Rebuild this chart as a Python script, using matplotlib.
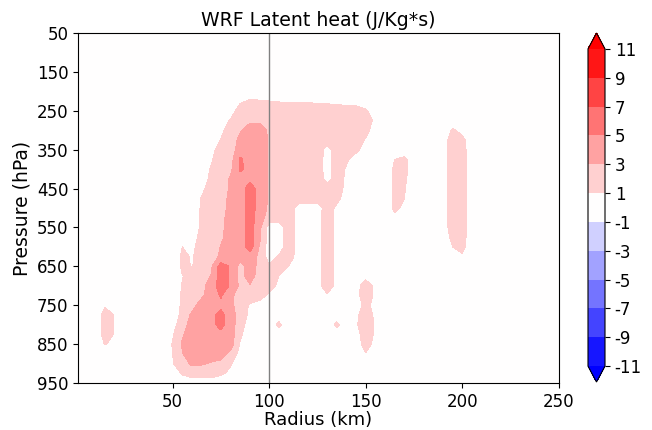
import numpy as np
import matplotlib
matplotlib.use("Agg")
import matplotlib.pyplot as plt

plt.rcParams['axes.unicode_minus'] = False

# Radius (km) and pressure (hPa) coordinates of the field
radius = [1, 5, 10, 15, 20, 25, 30, 35, 40, 45,
          50, 55, 60, 65, 70, 75, 80, 85, 90, 95,
          100, 105, 110, 115, 120, 125, 130, 135, 140, 145,
          150, 155, 160, 165, 170, 175, 180, 185, 190, 195,
          200, 205, 250]
pressure = [50, 200, 225, 250, 275, 300, 325, 350, 375, 400, 425, 450, 475,
            500, 525, 550, 575, 600, 625, 650, 675, 700, 725, 750, 775,
            800, 825, 850, 875, 900, 925, 950]

Z10 = [0, 0, 0, 0, 0, 0, 0, 0, 0, 0]
Z3 = [0, 0, 0]

# Latent heat (J/Kg*s), one row per pressure level, columns follow radius
heat = [
    Z10 + Z10 + Z10 + Z10 + Z3,  # 50
    Z10 + Z10 + Z10 + Z10 + Z3,  # 200
    Z10 + [0, 0, 0, 0, 0, 0, 0, 0.7, 1.2, 1.1] + [1.0, 0.9, 0.8, 0.8, 0.8, 0.7, 0.6, 0.4, 0.2, 0] + Z10 + Z3,  # 225
    Z10 + [0, 0, 0, 0, 0, 0, 0, 2, 2, 2] + [2, 2, 2, 2, 2, 2, 2, 2, 2, 2] + [1.2, 0, 0, 0, 0, 0, 0, 0, 0, 0] + Z3,  # 250
    Z10 + [0, 0, 0, 0, 0, 0, 1.2, 2, 2.6, 2.6] + [2, 2, 2, 2, 2, 2, 2, 2, 2, 2] + [2, 0.5, 0, 0, 0, 0, 0, 0, 0, 0] + Z3,  # 275
    Z10 + [0, 0, 0, 0, 0, 0.5, 2, 2.8, 4, 4] + [2.6, 2, 2, 2, 2, 2, 2, 2, 2, 2] + [1.6, 0, 0, 0, 0, 0, 0, 0, 0, 1.2] + [0.5, 0, 0],  # 300
    Z10 + [0, 0, 0, 0, 0, 1.1, 2, 3.5, 4, 4] + [2.8, 2, 2, 2, 2, 2, 2, 2, 2, 2] + [0.8, 0, 0, 0, 0, 0, 0, 0, 0, 2] + [1.4, 0, 0],  # 325
    Z10 + [0, 0, 0, 0, 0.3, 2, 2, 4, 4, 4] + [2.8, 2, 2, 2, 2, 2, 0.3, 2, 2, 1.5] + [0, 0, 0, 0, 0, 0, 0, 0, 0, 2] + [1.6, 0, 0],  # 350
    Z10 + [0, 0, 0, 0, 0.8, 2, 2.2, 5.3, 4.2, 4] + [2.8, 2, 2, 2, 2, 2, 0.2, 2, 1.3, 0] + [0, 0, 0, 1.0, 1.4, 0, 0, 0, 0, 2] + [1.7, 0, 0],  # 375
    Z10 + [0, 0, 0, 0, 1.2, 2, 2.6, 5.3, 4.3, 4] + [2.8, 2, 2, 2, 2, 2, 0.2, 2, 0.8, 0] + [0, 0, 0, 1.3, 1.5, 0, 0, 0, 0, 2] + [1.7, 0, 0],  # 400
    Z10 + [0, 0, 0, 0, 1.5, 2, 3.2, 4.2, 4.5, 4] + [2.8, 2, 2, 2, 2, 2, 0.3, 2, 0.6, 0] + [0, 0, 0, 1.4, 1.3, 0, 0, 0, 0, 2] + [1.7, 0, 0],  # 425
    Z10 + [0, 0, 0, 0.5, 2, 2, 3.3, 4, 6, 4.2] + [2.8, 2, 2, 2, 2, 2, 2, 2, 0.4, 0] + [0, 0, 0, 1.3, 1.1, 0, 0, 0, 0, 2] + [1.7, 0, 0],  # 450
    Z10 + [0, 0, 0, 1.1, 2, 2, 3.6, 4, 6, 4.2] + [2.7, 2, 2, 2, 2, 2, 2, 1.6, 0, 0] + [0, 0, 0, 1.3, 1.0, 0, 0, 0, 0, 2] + [1.7, 0, 0],  # 475
    Z10 + [0, 0, 0, 1.2, 2, 2, 3.8, 4, 6, 4.2] + [2.6, 2, 2, 0.3, 0, 0, 2, 0.6, 0, 0] + [0, 0, 0, 1.4, 0.6, 0, 0, 0, 0, 2] + [1.7, 0, 0],  # 500
    Z10 + [0, 0, 0, 1.3, 2, 2.3, 4, 4, 6, 3.8] + [2.2, 2, 2, 0.3, 0, 0.4, 2, 0.4, 0, 0] + [0, 0, 0, 0.5, 0, 0, 0, 0, 0, 2] + [1.7, 0, 0],  # 525
    Z10 + [0, 0, 0, 1.3, 2, 2.5, 4, 4, 6, 3.5] + [0, 0, 2, 0.3, 0, 0.4, 2, 0.4, 0, 0] + [0, 0, 0, 0, 0, 0, 0, 0, 0, 2] + [1.7, 0, 0],  # 550
    Z10 + [0, 0, 0.2, 1.6, 2, 2.6, 4, 4, 6, 3.5] + [0, 0, 2, 0.3, 0, 0.4, 2, 0.4, 0, 0] + [0, 0, 0, 0, 0, 0, 0, 0, 0, 1.5] + [1.6, 0, 0],  # 575
    Z10 + [0, 1.0, 0.5, 2, 2, 3.1, 4, 4, 6, 2.8] + [0, 0, 2, 0.3, 0, 0.4, 2, 0.4, 0, 0] + [0, 0, 0, 0, 0, 0, 0, 0, 0, 1.0] + [1.4, 0, 0],  # 600
    Z10 + [-1, 1.5, 0.8, 2, 2, 3.4, 4, 4, 4, 2.6] + [0, 1.2, 2, 0.2, 0, 0.4, 2, 0.4, 0, 0] + [0, 0, 0, 0, 0, 0, 0, 0, 0, 0.5] + [0.8, 0, 0],  # 625
    Z10 + [-1, 1.5, 0.9, 2, 2.7, 6, 4.8, 2.2, 4, 2.4] + [1.2, 2, 1.0, 0, 0, 0.4, 2, 0.4, 0, 0] + Z10 + Z3,  # 650
    Z10 + [0, 0.9, 2, 2, 3.1, 6, 4.8, 2.2, 4, 2] + [2, 1.0, 0, 0, 0, 0.4, 2, 0.4, 0, 0] + [0.33, 0, 0, 0, 0, 0, 0, 0, 0, 0] + Z3,  # 675
    Z10 + [0, 1.1, 2, 2.3, 4, 6, 4.8, 2.5, 2.8, 2] + [2, 0.5, 0, 0, 0, 0.4, 2, 0.4, 0, 0.3] + [2, 0.5, 0, 0, 0, 0, 0, 0, 0, 0] + Z3,  # 700
    Z10 + [0, 1.2, 2, 2.6, 4, 5.2, 3.5, 2, 2, 2] + [0.6, 0, 0, 0, 0, 0, 0.8, 0, 0, 0.4] + [2, 0.6, 0, 0, 0, 0, 0, 0, 0, 0] + Z3,  # 725
    [0, 0, 0, 0.75, 0, 0, 0, 0, 0, 0] + [0, 1.3, 2.2, 4, 4.2, 4.5, 3.5, 2, 0.8, 0] + Z10 + [1.6, 0.3, 0, 0, 0, 0, 0, 0, 0, 0] + Z3,  # 750
    [0, 0, -0.5, 2, 0.8, 0, 0, 0, 0, 0] + [0, 1.5, 3.4, 4, 4.5, 5.6, 4, 2, 0.6, 0] + [0, 0, 0, 0, 0, 0, 0, 0, 0, 0.6] + [2, 0.6, 0, 0, 0, 0, 0, 0, 0, 0] + Z3,  # 775
    [0, 0, -0.5, 2, 0.8, 0, 0, 0, 0, 0] + [0.3, 2, 4, 4, 4.5, 5.6, 4, 1.8, 0, 0] + [0, 1.4, 0, 0, 0, 0, 0, 1.4, 0, 0.8] + [2, 0.8, 0, 0, 0, 0, 0, 0, 0, 0] + Z3,  # 800
    [0, 0, -0.5, 2, 0.8, 0, 0, 0, 0, 0] + [0.8, 2.8, 4, 4, 4.2, 4.5, 4, 1.3, 0, 0] + [0, 0, 0, 0, 0, 0, 0, 0, 0, 0.3] + [2, 0.7, 0, 0, 0, 0, 0, 0, 0, 0] + Z3,  # 825
    [0, 0, -0.3, 1.1, 0.5, 0, 0, 0, 0, 0] + [1.1, 3.2, 4, 4, 4, 4, 4, 0.8, 0, 0] + Z10 + [1.8, 0.4, 0, 0, 0, 0, 0, 0, 0, 0] + Z3,  # 850
    Z10 + [1.0, 2.9, 4, 4, 4, 4, 2.4, 0.3, 0, 0] + Z10 + [0.9, 0, 0, 0, 0, 0, 0, 0, 0, 0] + Z3,  # 875
    Z10 + [0.9, 2, 3.4, 3.2, 2.8, 2.4, 1.2, 0, 0, 0] + Z10 + Z10 + Z3,  # 900
    Z10 + [0, 1.2, 1.8, 1.9, 1.8, 1.3, 0.6, 0, 0, 0] + Z10 + Z10 + Z3,  # 925
    Z10 + Z10 + Z10 + Z10 + Z3,  # 950
]

levels = [-11, -9, -7, -5, -3, -1, 1, 3, 5, 7, 9, 11]
pressure_ticks = [50, 150, 250, 350, 450, 550, 650, 750, 850, 950]
radius_ticks = [50, 100, 150, 200, 250]
eye_line_radius = 100

fig = plt.figure(figsize=(6.52, 4.30), dpi=100)
ax = fig.add_axes([78 / 652, 1 - 383 / 430, (559 - 78) / 652, 350 / 430])
cax = fig.add_axes([588 / 652, 1 - 382 / 430, 17 / 652, 349 / 430])

R, P = np.meshgrid(radius, pressure)
cf = ax.contourf(R, P, np.array(heat), levels=levels, cmap='bwr', extend='both')
ax.axvline(eye_line_radius, color='gray', lw=1)

ax.set_xlim(1, 250)
ax.set_ylim(950, 50)
ax.set_yticks(pressure_ticks)
ax.set_xticks(radius_ticks)
ax.tick_params(labelsize=12)
ax.set_title('WRF Latent heat (J/Kg*s)', fontsize=13.6, pad=5)
ax.set_xlabel('Radius (km)', fontsize=13, labelpad=0.5)
ax.set_ylabel('Pressure (hPa)', fontsize=13.5)

cb = fig.colorbar(cf, cax=cax, ticks=levels)
cb.ax.tick_params(labelsize=12)

fig.savefig('out.png', dpi=100)
